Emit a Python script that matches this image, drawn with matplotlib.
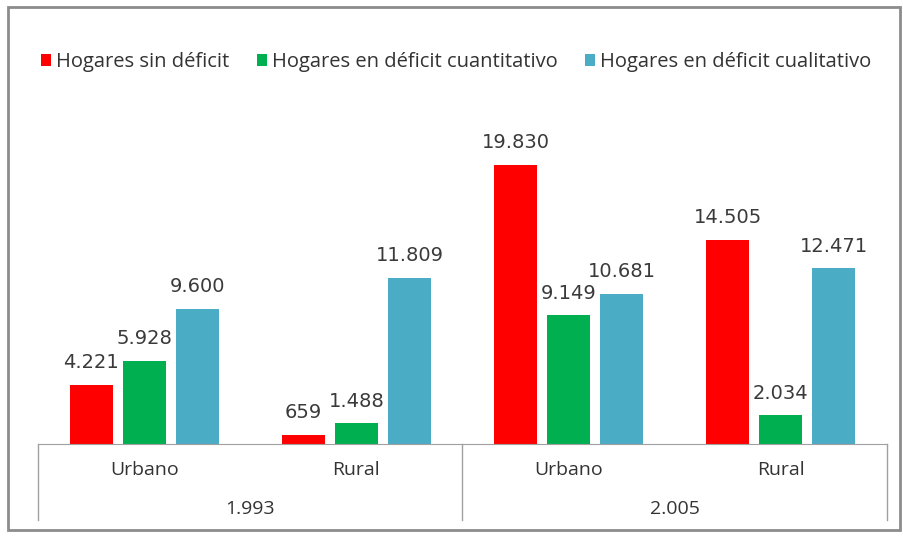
import matplotlib
matplotlib.use("Agg")
import matplotlib.pyplot as plt
from matplotlib.patches import Rectangle
from matplotlib.lines import Line2D
import numpy as np

plt.rcParams['font.family'] = ['Open Sans', 'DejaVu Sans']

areas = ["Urbano", "Rural", "Urbano", "Rural"]
years = ["1.993", "2.005"]
series_names = ["Hogares sin déficit", "Hogares en déficit cuantitativo", "Hogares en déficit cualitativo"]
sin_deficit = [4221, 659, 19830, 14505]
cuantitativo = [5928, 1488, 9149, 2034]
cualitativo = [9600, 11809, 10681, 12471]
colors = ["#FF0000", "#00B050", "#4BACC6"]

def fmt(v):
    return f"{v:,}".replace(",", ".")

fig = plt.figure(figsize=(9.04, 5.36), dpi=100)
ax = fig.add_axes([38/904, (536-444)/536, (887-38)/904, (444-92)/536])

x = np.arange(len(areas))
w = 0.203
step = 0.25
data = [sin_deficit, cuantitativo, cualitativo]
for i, (vals, c, name) in enumerate(zip(data, colors, series_names)):
    bars = ax.bar(x + (i - 1) * step, vals, width=w, color=c, label=name, zorder=2)
    for b, v in zip(bars, vals):
        ax.annotate(fmt(v), (b.get_x() + b.get_width()/2, b.get_height()),
                    xytext=(0, 9), textcoords="offset points", ha="center", va="bottom",
                    fontsize=14, color="#3A3A3A", family="DejaVu Sans")

ax.set_xlim(-0.5, 3.5)
ax.set_ylim(0, 25000)
for s in ["top", "right", "left"]:
    ax.spines[s].set_visible(False)
ax.spines["bottom"].set_color("#A0A0A0")
ax.set_yticks([])
ax.set_xticks([])

# category labels
for xi, a in zip(x, areas):
    ax.text(xi, -0.075, a, transform=ax.get_xaxis_transform(), ha="center", va="center",
            fontsize=14, color="#333333")
for k, y in enumerate(years):
    ax.text(0.5 + 2*k, -0.185, y, transform=ax.get_xaxis_transform(), ha="center", va="center",
            fontsize=14, color="#333333")
for xb in [-0.5, 1.5, 3.5]:
    ax.add_line(Line2D([xb, xb], [0, -0.216], transform=ax.get_xaxis_transform(),
                       color="#A0A0A0", lw=1, clip_on=False))

# legend
leg = fig.legend(loc="center left", bbox_to_anchor=(23/904, 1 - 62/536), ncol=3, frameon=False,
                 fontsize=14.5, handlelength=0.5, handleheight=0.5, handletextpad=0.25,
                 columnspacing=1.35, labelcolor="#333333")

# outer frame
fig.patches.append(Rectangle((8/904, 1 - 530/536), 892/904, 523/536, transform=fig.transFigure,
                             fill=False, edgecolor="#8C8C8C", lw=2))

fig.savefig("out.png", dpi=100)
